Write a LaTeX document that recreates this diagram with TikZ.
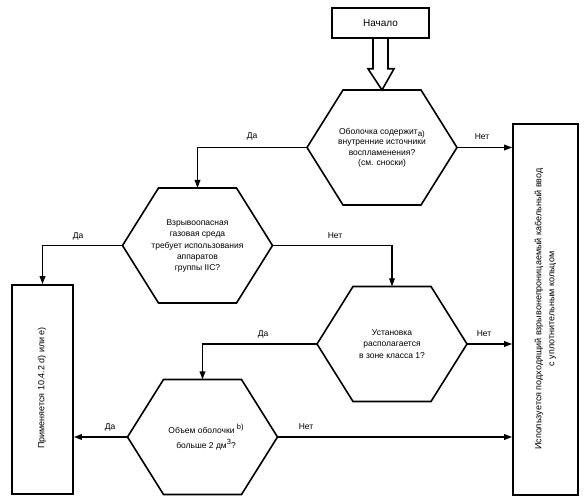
\documentclass[tikz,border=0pt]{standalone}
\usepackage{fontspec}
\setmainfont{Liberation Sans}
\usetikzlibrary{calc,arrows.meta}
\tikzset{
  ln/.style={line width=1.6pt, line join=miter},
  arr/.style={ln, -{Triangle[length=8pt,width=5.5pt]}},
  boxst/.style={draw, ln, inner sep=0pt},
  hextxt/.style={align=center, font=\fontsize{8.5}{10.5}\selectfont, inner sep=0pt},
  lbl/.style={font=\fontsize{8.5}{10}\selectfont, inner sep=0pt}
}
\newcommand\myhex[2]{%
  \coordinate (#1) at (#2);
  \coordinate (#1-l) at ($(#1)+(-75,0)$);
  \coordinate (#1-r) at ($(#1)+(75,0)$);
  \coordinate (#1-tl) at ($(#1)+(-39,-57.5)$);
  \coordinate (#1-tr) at ($(#1)+(39,-57.5)$);
  \coordinate (#1-bl) at ($(#1)+(-39,57.5)$);
  \coordinate (#1-br) at ($(#1)+(39,57.5)$);
  \coordinate (#1-t) at ($(#1)+(0,-57.5)$);
  \draw[ln] (#1-l) -- (#1-tl) -- (#1-tr) -- (#1-r) -- (#1-br) -- (#1-bl) -- cycle;
}
\newcommand\mysup[1]{\raisebox{4pt}{\fontsize{7.5}{8}\selectfont #1}}
\begin{document}
\begin{tikzpicture}[x=1pt,y=-1pt]
\useasboundingbox[fill=white] (0,0) rectangle (587,502);
% start
\node[boxst, minimum width=97pt, minimum height=30pt, font=\fontsize{10}{12}\selectfont] (start) at (380.5,23) {Начало};
% hexagons
\myhex{h1}{382,147.5}
\myhex{h2}{197.5,245.5}
\myhex{h3}{392,344}
\myhex{h4}{202.5,437}
% hollow arrow
\draw[ln] ($(start.south)+(-7.5,0)$) -- ($(start.south)+(-7.5,30)$) -- ($(start.south)+(-12.5,30)$)
  -- (h1-t) -- ($(start.south)+(13.5,30)$) -- ($(start.south)+(7.5,30)$) -- ($(start.south)+(7.5,0)$);
% boxes
\node[boxst, minimum width=65pt, minimum height=371pt] (rbox) at (545.5,309.5) {};
\node[boxst, minimum width=61pt, minimum height=209pt] (lbox) at (42.5,389.5) {};
\node[rotate=90, align=center, font=\fontsize{9}{13}\selectfont, inner sep=0pt] (rtext) at (545.5,309) {Используется подходящий взрывонепроницаемый кабельный ввод\\с уплотнительным кольцом};
\node[rotate=90, font=\fontsize{9}{11}\selectfont, inner sep=0pt] (ltext) at (42,388) {Применяется 10.4.2 d) или e)};
% texts
\node[hextxt] (t1) at (382,148) {Оболочка содержит\raisebox{-2pt}{\fontsize{8}{8}\selectfont a)}\\внутренние источники\\воспламенения?\\(см. сноски)};
\node[hextxt, font=\fontsize{8.5}{11.3}\selectfont] (t2) at (197.5,246) {Взрывоопасная\\газовая среда\\требует использования\\аппаратов\\группы IIC?};
\node[hextxt, font=\fontsize{8.5}{11.5}\selectfont] (t3) at (392,344) {Установка\\располагается\\в зоне класса 1?};
\node[hextxt, font=\fontsize{8.5}{15}\selectfont] (t4) at (206,437) {Объем оболочки \mysup{b)}\\больше 2 дм\mysup{3}?};
% connectors
\draw[arr] (h1-l) -| (h2-t);
\draw[arr] (h1-r) -- (h1-r -| rbox.west);
\draw[arr] (h2-l) -| (lbox.north);
\draw[arr] (h2-r) -| (h3-t);
\draw[arr] (h3-r) -- (h3-r -| rbox.west);
\draw[arr] (h3-l) -| (h4-t);
\draw[arr] (h4-l) -- (h4-l -| lbox.east);
\draw[arr] (h4-r) -- (h4-r -| rbox.west);
% labels
\node[lbl] (n1) at (482,137) {Нет};
\node[lbl] (d1) at (252,136) {Да};
\node[lbl] (d2) at (78,236) {Да};
\node[lbl] (n2) at (335,236) {Нет};
\node[lbl] (n3) at (484,334) {Нет};
\node[lbl] (d3) at (263,334) {Да};
\node[lbl] (d4) at (110,427) {Да};
\node[lbl] (n4) at (306,427) {Нет};
\end{tikzpicture}
\end{document}
